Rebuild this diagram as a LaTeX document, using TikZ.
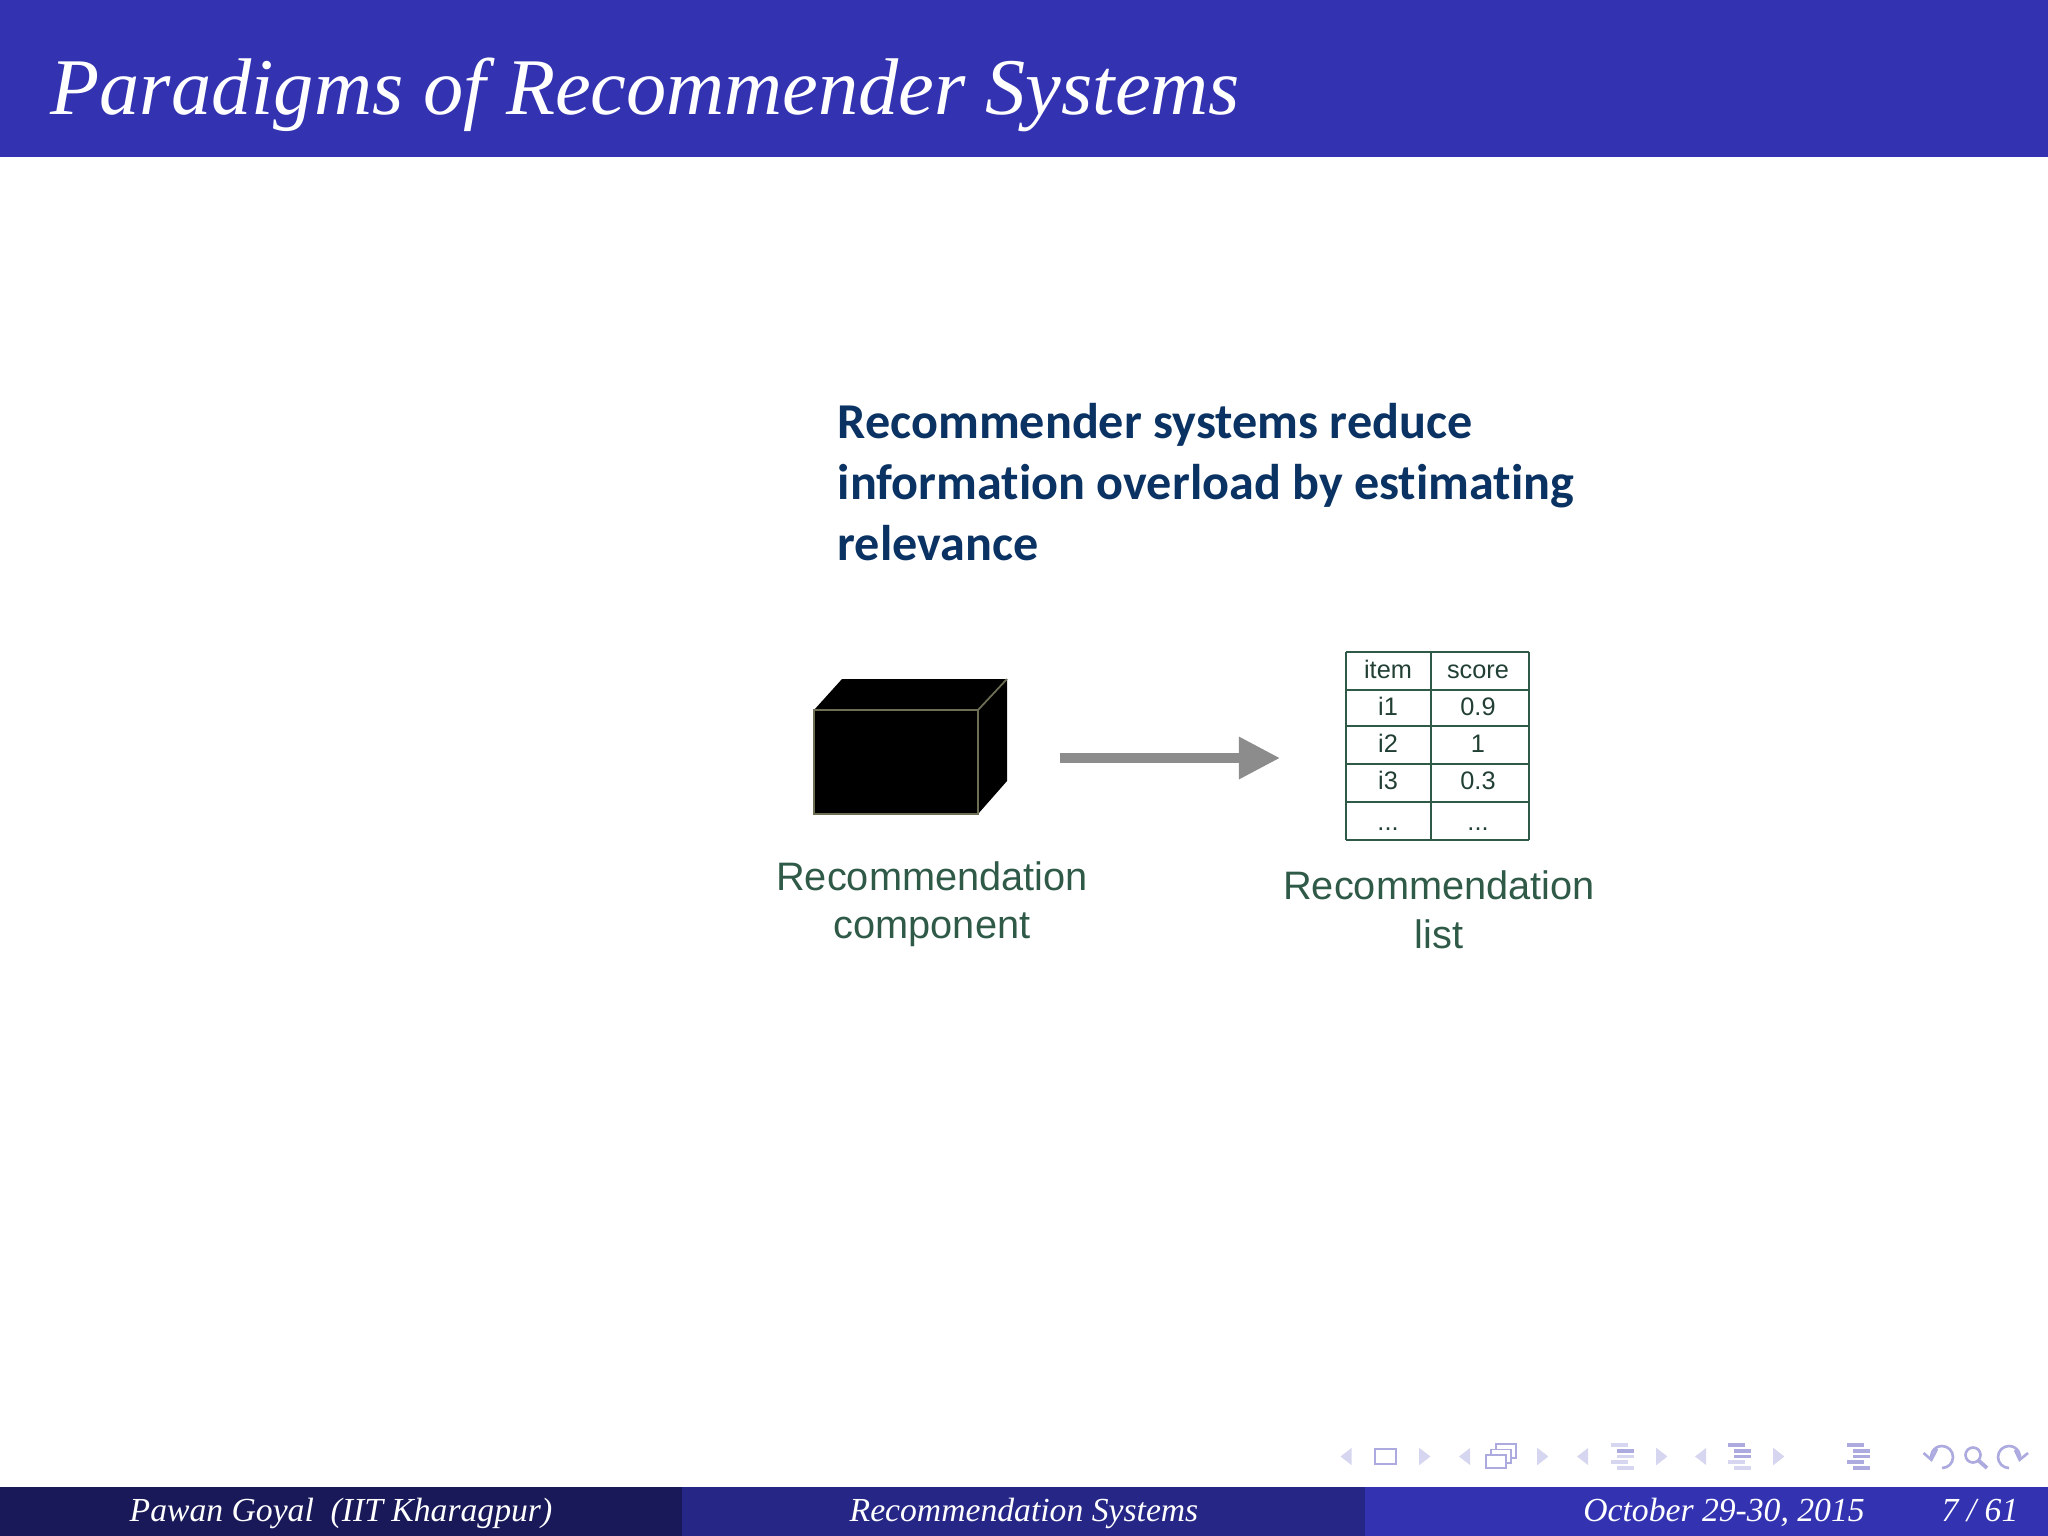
\documentclass[tikz,border=0pt]{standalone}
\usepackage{fontspec}
\setmainfont{Liberation Serif}
\setsansfont{Liberation Sans}
\newfontfamily\headfont[Ligatures=NoCommon]{Carlito}
\usetikzlibrary{arrows.meta}

\definecolor{barblue}{RGB}{51,51,178}
\definecolor{footdark}{RGB}{25,25,89}
\definecolor{footmid}{RGB}{38,38,134}
\definecolor{headnavy}{RGB}{10,50,99}
\definecolor{labelgreen}{RGB}{47,90,72}
\definecolor{boxedge}{RGB}{110,110,85}
\definecolor{navmid}{RGB}{172,170,222}
\definecolor{navlight}{RGB}{214,214,240}

\tikzset{
    titletext/.style={text=white, inner sep=0pt, font=\fontsize{22.85}{26}\selectfont\itshape},
    foottext/.style={text=white, inner sep=0pt, font=\fontsize{9.57}{11}\selectfont\itshape},
    headtext/.style={text=headnavy, inner sep=0pt, align=left, font=\fontsize{14.27}{17.3}\selectfont\headfont\bfseries},
    capttext/.style={text=labelgreen, inner sep=0pt, align=center, font=\fontsize{11.3}{13.8}\selectfont\sffamily},
    celltext/.style={text=labelgreen!70!black, inner sep=0pt, anchor=base, font=\fontsize{7.2}{8}\selectfont\sffamily},
    gridline/.style={draw=labelgreen, line width=0.7pt},
    navline/.style={draw=navmid, line width=0.45pt},
    navcurve/.style={draw=navmid, line width=0.75pt}
}

\newcommand{\navtip}[2]{\fill[navlight] (#1-5.5*#2,1456.5) -- (#1+5.5*#2,1448) -- (#1+5.5*#2,1465) -- cycle;}
\newcommand{\navbars}[6]{
    \foreach \by/\bx/\bc in {1445/0/#2, 1451/6/#3, 1456.5/6/#4, 1462/0/#5, 1468/6/#6}
        \fill[\bc] (#1+\bx,\by-1.6) rectangle (#1+\bx+17,\by+1.6);
}

\begin{document}
\begin{tikzpicture}[x=0.01cm, y=-0.01cm]
    \useasboundingbox (0,0) rectangle (2048,1536);

    % bars
    \fill[barblue] (0,0) rectangle (2048,157);
    \fill[footdark] (0,1487) rectangle (682,1536);
    \fill[footmid] (682,1487) rectangle (1365,1536);
    \fill[barblue] (1365,1487) rectangle (2048,1536);

    \node[titletext, anchor=base west] (title) at (50,114) {Paradigms of Recommender Systems};
    \node[foottext, anchor=base] (author) at (341,1521) {Pawan Goyal\ \ (IIT Kharagpur)};
    \node[foottext, anchor=base] (talk) at (1024,1521) {Recommendation Systems};
    \node[foottext, anchor=base] (date) at (1724,1521) {October 29-30, 2015};
    \node[foottext, anchor=base] (page) at (1980,1521) {7 / 61};

    \node[headtext, anchor=north west] (head) at (837,403) {Recommender systems reduce\\information overload by estimating\\relevance};

    % black box
    \fill[black] (814,710) -- (842,679) -- (1007,679) -- (1007,781) -- (978,814) -- (814,814) -- cycle;
    \draw[boxedge, line width=0.5pt] (814,710) -- (978,710) -- (978,814) -- (814,814) -- cycle (978,710) -- (1007,679);
    \coordinate (boxout) at (1060,758);
    \coordinate (listin) at (1280,758);
    \draw[draw=black!45, line width=2.6pt, -{Triangle[length=0.41cm, width=0.40cm]}] (boxout) -- (listin);

    \node[capttext] (boxlabel) at (932,904) {Recommendation\\component};
    \node[capttext] (listlabel) at (1439,910) {Recommendation\\list};

    % table
    \foreach \ly in {652,690,726,764,802,840}
        \draw[gridline] (1346,\ly) -- (1529,\ly);
    \foreach \lx in {1346,1431,1529}
        \draw[gridline] (\lx,652) -- (\lx,840);
    \foreach \ly/\ca/\cb in {678/item/score, 715/i1/0.9, 752/i2/1, 789/i3/0.3, 830/{...}/{...}} {
        \node[celltext] at (1388,\ly) {\ca};
        \node[celltext] at (1478,\ly) {\cb};
    }

    % navigation symbols
    \foreach \nx in {1346,1464.5,1582.5,1700.5}
        \navtip{\nx}{1}
    \foreach \nx in {1424.5,1542.5,1661.5,1778.5}
        \navtip{\nx}{-1}
    \draw[navline] (1375,1449) rectangle (1396,1464);
    \draw[navline, fill=white] (1496,1444) rectangle (1516,1458);
    \draw[navline, fill=white] (1491,1449.5) rectangle (1511,1463);
    \draw[navline, fill=white] (1486,1455) rectangle (1506,1468);
    \navbars{1611}{navlight}{navmid}{navlight}{navlight}{navlight}
    \navbars{1728}{navmid}{navmid}{navmid}{navlight}{navlight}
    \navbars{1847}{navmid}{navmid}{navmid}{navmid}{navmid}
    \draw[navcurve] (1942,1468) arc (90:-195:11);
    \draw[navcurve] (1923.5,1453) -- (1931.4,1459.8) -- (1937,1449);
    \draw[navcurve] (1973,1455) circle (7.5);
    \draw[navcurve, line width=1.1pt] (1978.5,1460.5) -- (1987,1468);
    \draw[navcurve] (2009,1468) arc (90:375:11);
    \draw[navcurve] (2015,1450) -- (2019.6,1459.8) -- (2028,1453);
\end{tikzpicture}
\end{document}
